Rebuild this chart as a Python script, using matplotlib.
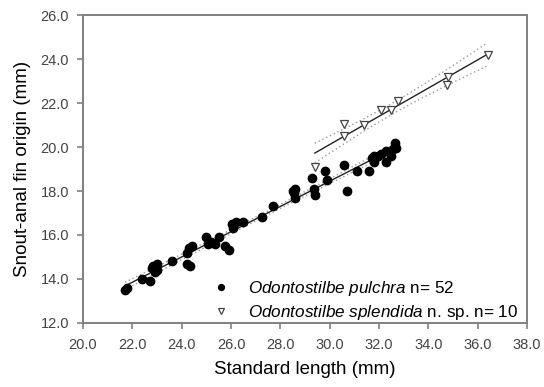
import matplotlib
matplotlib.use('Agg')
import matplotlib.pyplot as plt
import numpy as np

# Odontostilbe pulchra, standard length vs snout-anal fin origin (mm)
pulchra_sl = [21.7, 21.8, 22.4, 22.7, 22.8, 22.85, 22.9, 23.0, 23.0, 23.6,
              24.2, 24.2, 24.3, 24.35, 24.4, 25.0, 25.05, 25.2, 25.35, 25.5,
              25.75, 25.9, 26.05, 26.1, 26.2, 26.5, 27.25, 27.7, 28.5, 28.55,
              28.6, 28.6, 29.3, 29.35, 29.4, 29.8, 29.9, 30.6, 30.7, 31.1,
              31.6, 31.7, 31.8, 31.8, 31.95, 32.1, 32.3, 32.3, 32.5, 32.55,
              32.65, 32.7]
pulchra_saf = [13.5, 13.6, 14.0, 13.9, 14.5, 14.6, 14.3, 14.7, 14.4, 14.8,
               14.7, 15.2, 15.4, 14.6, 15.5, 15.9, 15.6, 15.7, 15.6, 15.9,
               15.5, 15.3, 16.5, 16.3, 16.6, 16.6, 16.8, 17.3, 18.0, 17.9,
               18.1, 17.7, 18.6, 18.1, 17.8, 18.9, 18.5, 19.2, 18.0, 18.9,
               18.9, 19.5, 19.3, 19.6, 19.6, 19.7, 19.3, 19.8, 19.6, 19.9,
               20.2, 19.95]

# Odontostilbe splendida n. sp.
splendida_sl = [29.4, 30.6, 30.6, 31.4, 32.1, 32.5, 32.75, 34.75, 34.8, 36.4]
splendida_saf = [19.1, 21.05, 20.5, 21.0, 21.7, 21.7, 22.1, 22.8, 23.2, 24.2]

xticks = np.arange(20, 38.1, 2)
yticks = np.arange(12, 26.1, 2)

# two-sided 95% t values for df = n - 2
t_crit = {50: 2.009, 8: 2.306}


def fit_with_ci(x, y):
    x = np.array(x)
    y = np.array(y)
    n = len(x)
    b, a = np.polyfit(x, y, 1)
    resid = y - (a + b * x)
    s = np.sqrt(np.sum(resid ** 2) / (n - 2))
    xs = np.linspace(x.min(), x.max(), 100)
    ys = a + b * xs
    se = s * np.sqrt(1 / n + (xs - x.mean()) ** 2 / np.sum((x - x.mean()) ** 2))
    t = t_crit[n - 2]
    return xs, ys, ys - t * se, ys + t * se


plt.rcParams['font.family'] = ['Liberation Sans', 'DejaVu Sans']
plt.rcParams['mathtext.fontset'] = 'custom'
plt.rcParams['mathtext.rm'] = 'Liberation Sans'
plt.rcParams['mathtext.it'] = 'Liberation Sans:italic'

fig = plt.figure(figsize=(5.44, 3.87), dpi=100)
ax = fig.add_axes([0.1526, 0.1654, 0.8162, 0.7958])

for sl, saf in [(pulchra_sl, pulchra_saf), (splendida_sl, splendida_saf)]:
    xs, ys, lo, hi = fit_with_ci(sl, saf)
    ax.plot(xs, ys, color='#222222', lw=1.0, zorder=2)
    ax.plot(xs, lo, color='#999999', lw=1.0, ls=(0, (1, 2)), zorder=1)
    ax.plot(xs, hi, color='#999999', lw=1.0, ls=(0, (1, 2)), zorder=1)

ax.plot(pulchra_sl, pulchra_saf, 'o', color='black', ms=6, zorder=3,
        label='$\\it{Odontostilbe\\ pulchra}$ n= 52')
ax.plot(splendida_sl, splendida_saf, 'v', mfc='white', mec='#444444', mew=0.9,
        ms=6, zorder=3, label='$\\it{Odontostilbe\\ splendida}$ n. sp. n= 10')

ax.set_xlim(20, 38)
ax.set_ylim(12, 26)
ax.set_xticks(xticks)
ax.set_yticks(yticks)
ax.set_xticklabels(['%.1f' % v for v in xticks])
ax.set_yticklabels(['%.1f' % v for v in yticks])
ax.tick_params(labelsize=10.5, labelcolor='#444444', color='#808080',
               length=4, width=1.2)
ax.tick_params(axis='x', pad=7)
ax.tick_params(axis='y', pad=6)
for sp in ax.spines.values():
    sp.set_color('#808080')
    sp.set_linewidth(1.4)

ax.set_xlabel('Standard length (mm)', fontsize=13.5, labelpad=6)
ax.set_ylabel('Snout-anal fin origin (mm)', fontsize=13.5, labelpad=7)

ax.legend(loc='lower right', frameon=False, fontsize=12.3, handletextpad=0.6,
          borderaxespad=0.0, labelspacing=0.25, markerscale=0.7,
          bbox_to_anchor=(0.996, -0.018))

fig.savefig('out.png', dpi=100)
